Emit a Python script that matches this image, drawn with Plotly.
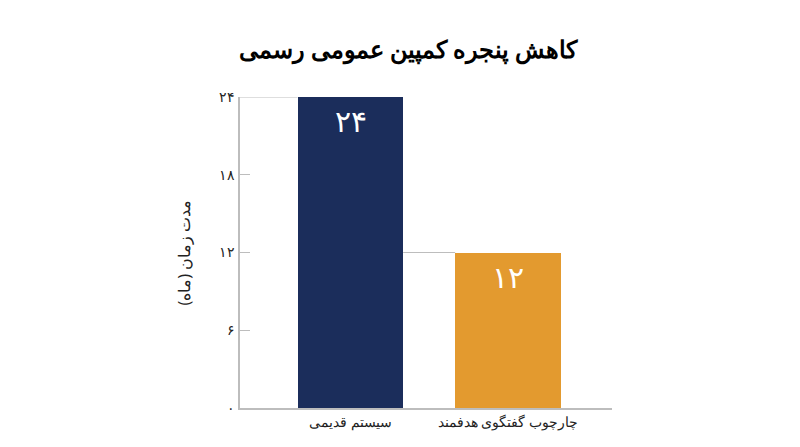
import plotly.graph_objects as go

categories = ["سیستم قدیمی", "چارچوب گفتگوی هدفمند"]
values = [24, 12]
value_labels = ["۲۴", "۱۲"]
colors = ["#1b2d5b", "#e39a2f"]
tick_vals = [0, 6, 12, 18, 24]
tick_text = ["۰", "۶", "۱۲", "۱۸", "۲۴"]
positions = [0, 1]
bar_width = 0.67

fig = go.Figure(go.Bar(
    x=positions, y=values, width=bar_width, marker=dict(color=colors, line=dict(width=0)),
    text=value_labels, textposition="inside", insidetextanchor="end",
    textfont=dict(size=30, color="white", family="Noto Sans"),
))
for p, v in zip(positions, values):
    x0 = -0.7 if p == 0 else positions[p - 1] + bar_width / 2
    fig.add_shape(type="line", xref="x", yref="y", x0=x0, x1=p - bar_width / 2, y0=v, y1=v,
                  line=dict(color="#bdbdbd", width=1.2), layer="below")

fig.update_layout(
    width=800, height=447, plot_bgcolor="white", paper_bgcolor="white",
    margin=dict(l=232, r=196, t=89, b=47, autoexpand=False),
    title=dict(text="<b>کاهش پنجره کمپین عمومی رسمی</b>", x=0.5, y=0.925, xanchor="center",
               font=dict(size=24, color="black", family="Noto Sans")),
    font=dict(family="Noto Sans", color="#222"),
    showlegend=False, bargap=0,
)
fig.update_xaxes(range=[-0.7, 1.66], tickvals=positions, ticktext=categories, showgrid=False,
                 showline=True, linecolor="#bdbdbd", linewidth=1.5, ticks="", tickfont=dict(size=14, color="#222"))
fig.update_yaxes(range=[0, 24], tickvals=tick_vals, ticktext=tick_text, showgrid=False, zeroline=False,
                 showline=True, linecolor="#bdbdbd", linewidth=1.5, ticks="inside", ticklen=10,
                 tickcolor="#bdbdbd", tickfont=dict(size=14, color="#222"),
                 title=dict(text="مدت زمان (ماه)", font=dict(size=16, color="#222"), standoff=25))
fig.write_html("out.html")
